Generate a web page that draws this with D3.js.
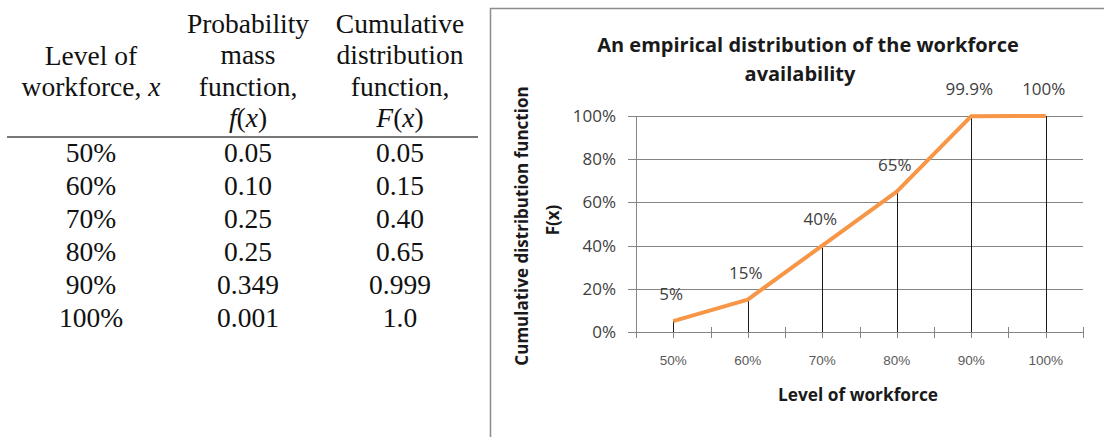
<!DOCTYPE html>
<html>
<head>
<meta charset="utf-8">
<script src="https://cdn.jsdelivr.net/npm/d3@7"></script>
<style>
  body { margin: 0; background: #fff; }
  svg { display: block; }
</style>
</head>
<body>
<div id="chart-area"></div>
<script>
// ---- data ----
var levelLabels = ["50%", "60%", "70%", "80%", "90%", "100%"];
var levels = [0.5, 0.6, 0.7, 0.8, 0.9, 1.0];
var pmfLabels = ["0.05", "0.10", "0.25", "0.25", "0.349", "0.001"];
var cdfLabels = ["0.05", "0.15", "0.40", "0.65", "0.999", "1.0"];
var cdfValues = [0.05, 0.15, 0.40, 0.65, 0.999, 1.0];
var pointLabels = ["5%", "15%", "40%", "65%", "99.9%", "100%"];
var yTicks = [0, 0.2, 0.4, 0.6, 0.8, 1.0];
var xTicks = [0.45, 0.5, 0.55, 0.6, 0.65, 0.7, 0.75, 0.8, 0.85, 0.9, 0.95, 1.0, 1.05];

// table header, one array per column, each entry one line (segments: [text, italic])
var headerCols = [
  [[["Level of", false]], [["workforce, ", false], ["x", true]]],
  [[["Probability", false]], [["mass", false]], [["function,", false]], [["f", true], ["(", false], ["x", true], [")", false]]],
  [[["Cumulative", false]], [["distribution", false]], [["function,", false]], [["F", true], ["(", false], ["x", true], [")", false]]]
];

var W = 1104, H = 437;

var svg = d3.select("#chart-area")
  .append("svg")
  .attr("width", W)
  .attr("height", H);

svg.append("rect").attr("width", W).attr("height", H).attr("fill", "#fff");

// ---- table ----
var colX = [91, 248, 400];
var table = svg.append("g")
  .attr("font-family", "'Liberation Serif', 'Times New Roman', serif")
  .attr("font-size", "27.5px")
  .attr("fill", "#111");

headerCols.forEach(function(lines, ci) {
  // first column sits on rows 2-3, others fill rows 1-4
  var lastBase = ci === 0 ? 96 : 127;
  lines.forEach(function(segs, li) {
    var t = table.append("text")
      .attr("x", colX[ci])
      .attr("y", lastBase - (lines.length - 1 - li) * 31.5)
      .attr("text-anchor", "middle");
    segs.forEach(function(s) {
      t.append("tspan")
        .attr("font-style", s[1] ? "italic" : "normal")
        .text(s[0]);
    });
  });
});

table.append("line")
  .attr("x1", 7).attr("x2", 478)
  .attr("y1", 137).attr("y2", 137)
  .attr("stroke", "#777")
  .attr("stroke-width", 2);

var rows = table.selectAll(".row")
  .data(levelLabels)
  .enter()
  .append("g")
  .attr("class", "row")
  .attr("transform", function(d, i) { return "translate(0," + (162 + i * 33) + ")"; });

rows.append("text").attr("x", colX[0]).attr("text-anchor", "middle")
  .text(function(d) { return d; });
rows.append("text").attr("x", colX[1]).attr("text-anchor", "middle")
  .text(function(d, i) { return pmfLabels[i]; });
rows.append("text").attr("x", colX[2]).attr("text-anchor", "middle")
  .text(function(d, i) { return cdfLabels[i]; });

// ---- chart panel border ----
svg.append("path")
  .attr("d", "M490.5," + H + "V8.5H" + W)
  .attr("fill", "none")
  .attr("stroke", "#8c8c8c")
  .attr("stroke-width", 1.5);

// ---- chart ----
var x = d3.scaleLinear().domain([0.45, 1.05]).range([636, 1083]);
var y = d3.scaleLinear().domain([0, 1]).range([332, 116]);

var chart = svg.append("g")
  .attr("font-family", "'Open Sans', 'Noto Sans', sans-serif");

// gridlines
chart.selectAll(".grid")
  .data(yTicks)
  .enter()
  .append("line")
  .attr("class", "grid")
  .attr("x1", 628)
  .attr("x2", 1083)
  .attr("y1", function(d) { return Math.round(y(d)) + 0.5; })
  .attr("y2", function(d) { return Math.round(y(d)) + 0.5; })
  .attr("stroke", "#858585")
  .attr("stroke-width", 1);

// y axis line
chart.append("line")
  .attr("x1", 636.5).attr("x2", 636.5)
  .attr("y1", y(1)).attr("y2", y(0))
  .attr("stroke", "#858585");

// x axis ticks (cross)
chart.selectAll(".xtick")
  .data(xTicks)
  .enter()
  .append("line")
  .attr("class", "xtick")
  .attr("x1", function(d) { return Math.round(x(d)) + 0.5; })
  .attr("x2", function(d) { return Math.round(x(d)) + 0.5; })
  .attr("y1", y(0) - 5)
  .attr("y2", y(0) + 6)
  .attr("stroke", "#858585");

// y tick labels
chart.selectAll(".ylab")
  .data(yTicks)
  .enter()
  .append("text")
  .attr("class", "ylab")
  .attr("x", 616)
  .attr("y", function(d) { return y(d); })
  .attr("dy", "0.35em")
  .attr("text-anchor", "end")
  .attr("font-size", "17px")
  .attr("fill", "#404040")
  .text(function(d) { return d3.format(".0%")(d); });

// x tick labels
chart.selectAll(".xlab")
  .data(levels)
  .enter()
  .append("text")
  .attr("class", "xlab")
  .attr("x", function(d) { return x(d); })
  .attr("y", 360)
  .attr("dy", "0.35em")
  .attr("text-anchor", "middle")
  .attr("font-family", "'Liberation Sans', Arial, sans-serif")
  .attr("font-size", "13.5px")
  .attr("fill", "#5a5a5a")
  .text(function(d, i) { return levelLabels[i]; });

// drop lines
var pts = levels.map(function(d, i) { return { x: d, y: cdfValues[i], label: pointLabels[i] }; });

chart.selectAll(".drop")
  .data(pts)
  .enter()
  .append("line")
  .attr("class", "drop")
  .attr("x1", function(d) { return Math.round(x(d.x)) + 0.5; })
  .attr("x2", function(d) { return Math.round(x(d.x)) + 0.5; })
  .attr("y1", function(d) { return y(d.y); })
  .attr("y2", y(0))
  .attr("stroke", "#1a1a1a")
  .attr("stroke-width", 1);

// cdf line
var line = d3.line()
  .x(function(d) { return x(d.x); })
  .y(function(d) { return y(d.y); });

chart.append("path")
  .datum(pts)
  .attr("d", line)
  .attr("fill", "none")
  .attr("stroke", "#f79646")
  .attr("stroke-width", 4)
  .attr("stroke-linejoin", "round");

// data labels
chart.selectAll(".plab")
  .data(pts)
  .enter()
  .append("text")
  .attr("class", "plab")
  .attr("x", function(d) { return x(d.x) - 2; })
  .attr("y", function(d) { return y(d.y) - 27; })
  .attr("dy", "0.35em")
  .attr("text-anchor", "middle")
  .attr("font-size", "17px")
  .attr("fill", "#404040")
  .text(function(d) { return d.label; });

// title
chart.append("text")
  .attr("x", 808).attr("y", 45).attr("dy", "0.35em")
  .attr("text-anchor", "middle")
  .attr("font-weight", "bold")
  .attr("font-size", "20px")
  .attr("fill", "#1a1a1a")
  .text("An empirical distribution of the workforce");

chart.append("text")
  .attr("x", 800).attr("y", 74).attr("dy", "0.35em")
  .attr("text-anchor", "middle")
  .attr("font-weight", "bold")
  .attr("font-size", "20px")
  .attr("fill", "#1a1a1a")
  .text("availability");

// x axis title
chart.append("text")
  .attr("x", 858).attr("y", 395).attr("dy", "0.35em")
  .attr("text-anchor", "middle")
  .attr("font-weight", "bold")
  .attr("font-size", "17.3px")
  .attr("fill", "#1a1a1a")
  .text("Level of workforce");

// y axis title
var yTitle = chart.append("text")
  .attr("transform", "translate(522,226) rotate(-90)")
  .attr("text-anchor", "middle")
  .attr("font-weight", "bold")
  .attr("font-size", "17px")
  .attr("fill", "#1a1a1a");

yTitle.append("tspan").attr("x", 0).attr("dy", "0.35em").text("Cumulative distribution function");
yTitle.append("tspan").attr("x", 6).attr("y", 0).attr("dy", "37px").text("F(x)");
</script>
</body>
</html>
